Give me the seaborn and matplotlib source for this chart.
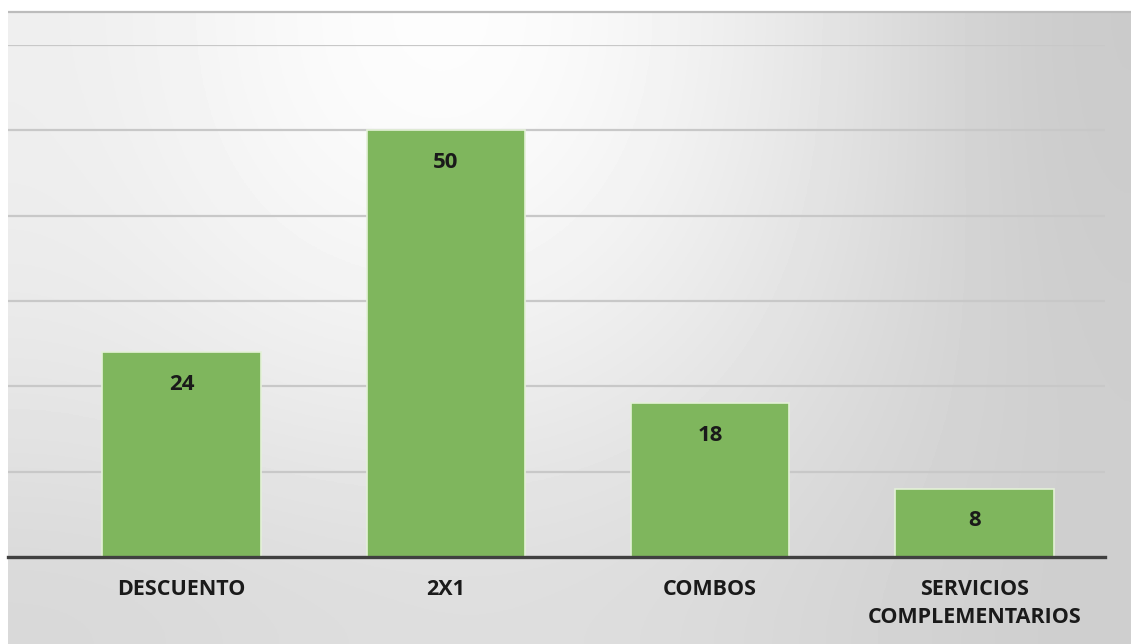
import numpy as np
import matplotlib
matplotlib.use("Agg")
import matplotlib.pyplot as plt
import seaborn as sns

categories = ["DESCUENTO", "2X1", "COMBOS", "SERVICIOS\nCOMPLEMENTARIOS"]
values = [24, 50, 18, 8]
yticks = [0, 10, 20, 30, 40, 50, 60]

sns.set_theme(style="white")
plt.rcParams['font.family'] = ['Open Sans', 'DejaVu Sans']

W, H = 1131, 644
fig = plt.figure(figsize=(W / 100, H / 100), dpi=100)
fig.patch.set_facecolor("white")

# background gradient (chart area)
bg = fig.add_axes([0, 0, 1, 1])
bg.set_xlim(0, W)
bg.set_ylim(H, 0)
bg.axis("off")
grid = np.array([
    [238, 250, 255, 245, 226, 202],
    [236, 245, 248, 240, 224, 204],
    [229, 235, 236, 231, 219, 206],
    [216, 220, 222, 220, 213, 206],
], dtype=float)
bg.imshow(grid, cmap="gray", vmin=0, vmax=255, extent=(8, W, H, 12),
          interpolation="bicubic", aspect="auto")
bg.plot([8, W], [12, 12], color="#bcbcbc", lw=1.6, solid_capstyle="butt")

ax = fig.add_axes([8 / W, 87 / H, 1097 / W, 512 / H])
ax.patch.set_alpha(0)
sns.barplot(x=categories, y=values, color="#7fb65d", saturation=1, width=0.6,
            edgecolor="#e4f1d8", linewidth=1.2, ax=ax)
ax.set_ylim(0, 60)
ax.set_xlim(-0.657, 3.494)
ax.set_yticks(yticks)
ax.set_axisbelow(True)
ax.yaxis.grid(True, color="#c8c8c8", lw=1.6)
ax.xaxis.grid(False)
ax.tick_params(left=False, labelleft=False, bottom=False, pad=10)
for s in ["top", "left", "right"]:
    ax.spines[s].set_visible(False)
ax.spines["bottom"].set_color("#404040")
ax.spines["bottom"].set_linewidth(2.4)
ax.set_xlabel("")
ax.set_ylabel("")
for lab in ax.get_xticklabels():
    lab.set_fontsize(15.5)
    lab.set_fontweight("bold")
    lab.set_color("#1a1a1a")
    lab.set_linespacing(1.45)

for i, v in enumerate(values):
    ax.annotate(str(v), (i, v), xytext=(0, -23), textcoords="offset points",
                ha="center", va="center", fontsize=16, fontweight="bold",
                color="#1a1a1a")

fig.savefig("out.png", dpi=100)
